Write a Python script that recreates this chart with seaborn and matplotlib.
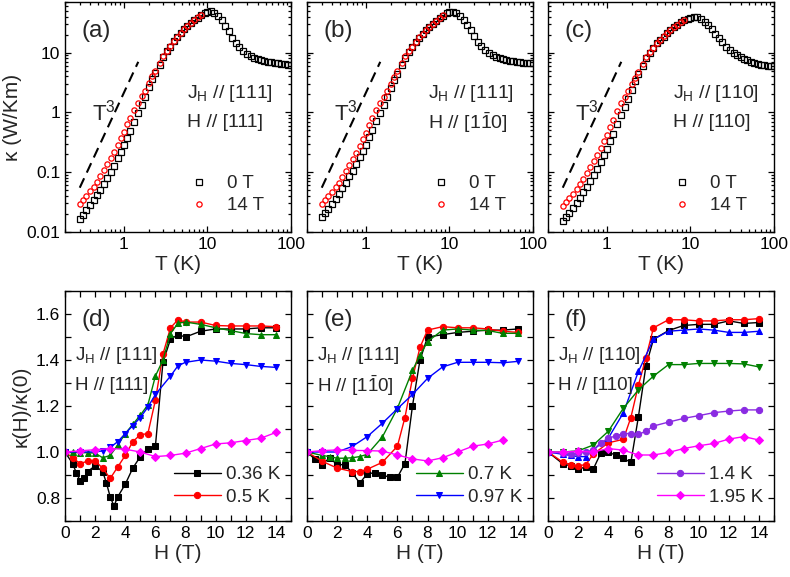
import numpy as np
import matplotlib
matplotlib.use("Agg")
import matplotlib.pyplot as plt
import matplotlib.ticker as mticker
import seaborn as sns

# ---- top row: kappa(T) on log-log ----
T0 = [0.30, 0.33, 0.36, 0.40, 0.44, 0.48, 0.53, 0.58, 0.64, 0.70,
      0.77, 0.85, 0.93, 1.0, 1.1, 1.2, 1.35, 1.5, 1.65, 1.8,
      2.0, 2.2, 2.4, 2.7, 3.0, 3.3, 3.6, 4.0, 4.4, 4.8,
      5.3, 5.8, 6.4, 7.0, 7.7, 8.5, 9.3, 10, 11, 12,
      13.5, 15, 16.5, 18, 20, 22, 24, 27, 30, 33,
      36, 40, 44, 48, 53, 58, 64, 70, 77, 85,
      93, 100]
T14 = T0[:36]

ka_0T = [0.0166, 0.0195, 0.023, 0.028, 0.034, 0.041, 0.051, 0.064, 0.081, 0.101,
         0.129, 0.17, 0.22, 0.28, 0.37, 0.49, 0.70, 0.98, 1.35, 1.82,
         2.63, 3.55, 4.57, 6.3, 8.5, 10.7, 12.6, 15.5, 18.2, 20.9,
         24.3, 27.5, 30.9, 34.7, 38.5, 42.7, 46.2, 48.4, 49.0, 46.2,
         40.7, 34.7, 28.2, 22.9, 17.8, 14.5, 12.3, 10.5, 9.3, 8.7,
         8.2, 7.76, 7.4, 7.2, 7.0, 6.84, 6.68, 6.58, 6.46, 6.38,
         6.31, 6.24]
ka_14T = [0.0293, 0.0347, 0.0403, 0.0479, 0.0575, 0.0684, 0.085, 0.107, 0.136, 0.17,
          0.214, 0.28, 0.37, 0.47, 0.63, 0.82, 1.1, 1.45, 1.85, 2.3,
          3.05, 4.0, 5.0, 6.8, 8.8, 10.8, 12.9, 15.6, 18.3, 21.0,
          24.4, 27.6, 31.0, 34.8, 38.6, 42.8]

kb_0T = [0.0175, 0.0205, 0.024, 0.0295, 0.036, 0.043, 0.054, 0.067, 0.085, 0.106,
         0.135, 0.178, 0.23, 0.29, 0.385, 0.5, 0.71, 0.98, 1.33, 1.78,
         2.55, 3.45, 4.45, 6.1, 8.2, 10.3, 12.2, 15.0, 17.6, 20.2,
         23.5, 26.6, 30.0, 33.6, 37.3, 41.5, 45.0, 47.0, 47.5, 45.5,
         40.5, 35.0, 29.0, 23.8, 18.8, 15.3, 13.0, 11.0, 9.8, 9.1,
         8.5, 8.0, 7.7, 7.45, 7.25, 7.1, 6.95, 6.85, 6.75, 6.7,
         6.65, 6.6]
kb_14T = [0.0295, 0.0345, 0.040, 0.047, 0.056, 0.067, 0.083, 0.104, 0.132, 0.165,
          0.21, 0.275, 0.36, 0.455, 0.61, 0.8, 1.08, 1.42, 1.82, 2.28,
          3.0, 3.95, 4.95, 6.7, 8.6, 10.6, 12.6, 15.3, 17.9, 20.5,
          23.8, 26.9, 30.3, 33.9, 37.6, 41.8]

kc_0T = [0.0155, 0.018, 0.021, 0.0255, 0.031, 0.037, 0.046, 0.057, 0.072, 0.09,
         0.115, 0.15, 0.195, 0.245, 0.33, 0.44, 0.64, 0.9, 1.25, 1.7,
         2.4, 3.3, 4.3, 6.0, 8.0, 10.0, 11.8, 14.2, 16.3, 18.4,
         21.0, 23.5, 26.3, 29.0, 31.8, 34.6, 36.9, 38.3, 39.2, 39.0,
         36.5, 32.5, 28.5, 24.5, 20.5, 17.3, 14.9, 12.5, 10.9, 9.8,
         9.0, 8.4, 7.8, 7.4, 7.0, 6.7, 6.5, 6.3, 6.15, 6.0,
         5.9, 5.85]
kc_14T = [0.0275, 0.032, 0.037, 0.044, 0.053, 0.063, 0.078, 0.097, 0.124, 0.155,
          0.197, 0.255, 0.33, 0.42, 0.56, 0.74, 1.05, 1.42, 1.8, 2.25,
          2.95, 3.8, 4.7, 6.4, 8.3, 10.2, 12.0, 14.4, 16.5, 18.6,
          21.2, 23.7, 26.5, 29.2, 32.0, 34.8]

# T^3 guide line end points
t3_T = [0.3, 1.5]
t3_k = [0.055, 7.0]

# ---- bottom row: kappa(H)/kappa(0) ----
d_H_036 = [0, 0.5, 0.75, 1, 1.25, 1.5, 2, 2.5, 2.75, 3, 3.25, 3.5, 4, 4.5, 5, 5.5, 6,
           6.5, 7, 7.5, 8, 9, 10, 11, 12, 13, 14]
d_k_036 = [1.0, 0.95, 0.91, 0.875, 0.885, 0.915, 0.94, 0.915, 0.865, 0.805, 0.765, 0.805,
           0.86, 0.93, 0.98, 1.015, 1.025, 1.39, 1.49, 1.51, 1.50, 1.525, 1.535, 1.535,
           1.535, 1.54, 1.54]
d_H_05 = [0, 0.5, 1, 1.5, 2, 2.5, 3, 3.5, 4, 4.5, 5, 5.5, 6, 6.5, 7, 7.5, 8, 9, 10, 11, 12, 13, 14]
d_k_05 = [1.0, 0.975, 0.95, 0.96, 0.96, 0.93, 0.885, 0.935, 0.985, 1.045, 1.075, 1.08,
          1.225, 1.425, 1.54, 1.575, 1.565, 1.565, 1.55, 1.548, 1.548, 1.548, 1.545]
d_H_07 = [0, 0.5, 1, 1.5, 2, 2.5, 3, 3.5, 4, 4.5, 5, 5.5, 6, 6.5, 7, 7.5, 8, 9, 10, 11, 12, 13, 14]
d_k_07 = [1.0, 0.998, 0.997, 0.997, 0.995, 0.975, 0.985, 1.03, 1.08, 1.12, 1.16, 1.205,
          1.33, 1.40, 1.515, 1.56, 1.565, 1.555, 1.54, 1.528, 1.515, 1.51, 1.51]
d_H_097 = [0, 1, 2, 2.5, 3, 3.5, 4, 4.5, 5, 5.5, 6, 7, 7.5, 8, 9, 10, 11, 12, 13, 14]
d_k_097 = [1.0, 1.0, 1.0, 1.005, 1.02, 1.045, 1.08, 1.115, 1.15, 1.195, 1.25, 1.33,
           1.375, 1.39, 1.40, 1.395, 1.385, 1.38, 1.372, 1.368]
d_H_195 = [0, 1, 2, 3, 4, 5, 6, 7, 8, 9, 10, 11, 12, 13, 14]
d_k_195 = [1.0, 1.005, 1.01, 1.015, 1.012, 1.0, 0.98, 0.985, 0.995, 1.015, 1.035, 1.04,
           1.05, 1.06, 1.085]

e_H_036 = [0, 0.5, 1, 1.5, 2, 2.5, 3, 3.5, 4, 4.5, 5, 5.5, 6, 6.5, 7, 7.5, 8, 9, 10, 11, 12, 13, 14]
e_k_036 = [1.0, 0.97, 0.945, 0.975, 0.945, 0.945, 0.91, 0.865, 0.905, 0.91, 0.9, 0.89,
           0.89, 0.95, 1.2, 1.4, 1.5, 1.51, 1.52, 1.525, 1.53, 1.53, 1.535]
e_H_05 = [0, 1, 2, 3, 3.5, 4, 5, 6, 6.5, 7, 7.5, 8, 9, 10, 11, 12, 13, 14]
e_k_05 = [1.0, 0.96, 0.93, 0.915, 0.915, 0.925, 0.955, 1.025, 1.15, 1.32, 1.455, 1.53,
          1.545, 1.54, 1.54, 1.535, 1.525, 1.52]
e_H_07 = [0, 1, 1.5, 2, 2.5, 3, 3.5, 4, 5, 6, 7, 7.5, 8, 9, 10, 11, 12, 13, 14]
e_k_07 = [1.0, 0.985, 0.98, 0.973, 0.973, 0.975, 0.98, 0.99, 1.065, 1.19, 1.355, 1.42,
          1.48, 1.53, 1.535, 1.53, 1.528, 1.516, 1.516]
e_H_097 = [0, 1, 2, 3, 4, 5, 6, 7, 8, 9, 10, 11, 12, 13, 14]
e_k_097 = [1.0, 1.0, 1.0, 1.024, 1.067, 1.125, 1.188, 1.25, 1.32, 1.37, 1.39, 1.39,
           1.39, 1.388, 1.394]
e_H_195 = [0, 1, 2, 3, 4, 5, 6, 7, 8, 9, 10, 11, 12, 13]
e_k_195 = [1.0, 1.006, 1.009, 1.007, 1.006, 1.004, 0.987, 0.97, 0.961, 0.975, 1.0,
           1.025, 1.035, 1.052]

f_H_036 = [0, 1, 1.5, 2, 2.5, 3, 3.5, 4, 4.5, 5, 5.5, 6, 6.5, 7, 8, 9, 10, 11, 12, 13, 14]
f_k_036 = [1.0, 0.948, 0.94, 0.925, 0.935, 0.925, 0.995, 0.998, 0.987, 0.972, 0.955,
           1.153, 1.374, 1.49, 1.528, 1.55, 1.555, 1.555, 1.57, 1.559, 1.563]
f_H_05 = [0, 1, 1.5, 2, 2.5, 3, 4, 5, 5.5, 6, 6.5, 7, 8, 9, 10, 11, 12, 13, 14]
f_k_05 = [1.0, 0.955, 0.945, 0.94, 0.945, 0.99, 1.04, 1.055, 1.15, 1.29, 1.41, 1.54,
          1.575, 1.575, 1.57, 1.57, 1.575, 1.575, 1.58]
f_H_blue = [0, 1, 1.5, 2, 2.5, 3, 4, 5, 6, 7, 8, 9, 10, 11, 12, 13, 14]
f_k_blue = [1.0, 0.99, 0.985, 0.98, 0.98, 1.01, 1.06, 1.17, 1.35, 1.49, 1.525, 1.53,
            1.535, 1.53, 1.52, 1.52, 1.525]
f_H_green = [0, 1, 2, 3, 4, 5, 6, 7, 8, 9, 10, 11, 12, 13, 14]
f_k_green = [1.0, 1.0, 1.005, 1.03, 1.09, 1.19, 1.27, 1.33, 1.38, 1.38, 1.385, 1.385,
             1.385, 1.383, 1.37]
f_H_14 = [0, 1, 1.5, 2, 2.5, 3, 3.5, 4, 4.5, 5, 5.5, 6, 6.5, 7, 8, 9, 10, 11, 12, 13, 14]
f_k_14 = [1.0, 0.995, 0.99, 0.995, 0.998, 1.01, 1.04, 1.06, 1.07, 1.08, 1.08, 1.077,
          1.09, 1.113, 1.13, 1.146, 1.158, 1.171, 1.178, 1.183, 1.183]
f_H_195 = [0, 1, 2, 3, 4, 5, 6, 7, 8, 9, 10, 11, 12, 13, 14]
f_k_195 = [1.0, 1.0, 1.003, 1.0, 1.015, 1.008, 0.987, 0.987, 0.998, 1.015, 1.027, 1.037,
           1.056, 1.067, 1.052]

BLACK, RED, GREEN, BLUE, PURPLE, MAGENTA = "black", "#ff0000", "#008000", "#0000ff", "#8a2be2", "#ff00ff"

sns.set_theme(style="ticks")
plt.rcParams["font.family"] = ["Liberation Sans", "DejaVu Sans"]
plt.rcParams["mathtext.fontset"] = "custom"
plt.rcParams["mathtext.rm"] = "Liberation Sans"
plt.rcParams["mathtext.it"] = "Liberation Sans:italic"
plt.rcParams["axes.linewidth"] = 1.0

fig = plt.figure(figsize=(7.9, 5.77), dpi=100)
lefts = [65 / 790, 307 / 790, 548 / 790]
W, H_ = 226 / 790, 230 / 577
top_axes = [fig.add_axes([l, 1 - 232 / 577, W, H_]) for l in lefts]
bot_axes = [fig.add_axes([l, 1 - 521 / 577, W, H_]) for l in lefts]

def style_ticks(ax):
    ax.tick_params(which="both", direction="in", top=True, right=True,
                   labelsize=12.5, colors="black", width=0.9)
    ax.tick_params(which="major", length=4.5)
    ax.tick_params(which="minor", length=2.5)
    for s in ax.spines.values():
        s.set_color("black")

top_data = [(ka_0T, ka_14T, "(a)", "[111]", "[111]"),
            (kb_0T, kb_14T, "(b)", "[111]", r"[1$\bar{\mathregular{1}}$0]"),
            (kc_0T, kc_14T, "(c)", "[110]", "[110]")]

for i, (ax, (k0, k14, lab, jh, hh)) in enumerate(zip(top_axes, top_data)):
    ax.set_xscale("log")
    ax.set_yscale("log")
    sns.lineplot(x=t3_T, y=t3_k, ax=ax, color="black", linestyle=(0, (5, 3)), lw=1.5)
    sns.lineplot(x=T0, y=k0, ax=ax, linestyle="", marker="s", ms=3.8, mfc="none",
                 mec="black", mew=0.9, label="0 T")
    sns.lineplot(x=T14, y=k14, ax=ax, linestyle="", marker="o", ms=3.8, mfc="none",
                 mec=RED, mew=0.9, label="14 T")
    ax.set_xlim(0.2, 100)
    ax.set_ylim(0.01, 70)
    ax.set_xticks([1, 10, 100])
    ax.set_xticklabels(["1", "10", "100"])
    ax.set_yticks([0.01, 0.1, 1, 10])
    ax.set_yticklabels(["0.01", "0.1", "1", "10"])
    ax.xaxis.set_minor_locator(mticker.LogLocator(base=10, subs=np.arange(2, 10), numticks=20))
    ax.yaxis.set_minor_locator(mticker.LogLocator(base=10, subs=np.arange(2, 10), numticks=20))
    ax.xaxis.set_minor_formatter(mticker.NullFormatter())
    ax.yaxis.set_minor_formatter(mticker.NullFormatter())
    style_ticks(ax)
    ax.set_xlabel("T (K)", fontsize=15, labelpad=2)
    if i == 0:
        ax.set_ylabel("κ (W/Km)", fontsize=15, labelpad=3)
    else:
        ax.set_ylabel("")
        ax.set_yticklabels([])
    ax.text(0.075, 0.875, lab, transform=ax.transAxes, fontsize=17.5, va="center")
    jx = [0.54, 0.535, 0.555][i]
    ax.text(jx, 0.60, r"J$_\mathregular{H}$ // " + jh, transform=ax.transAxes,
            fontsize=14, va="center")
    ax.text(jx, 0.475, "H // " + hh, transform=ax.transAxes, fontsize=14, va="center")
    ax.text(0.12, 0.52, r"T$^\mathregular{3}$", transform=ax.transAxes, fontsize=16,
            va="center")
    ax.legend(loc="lower left", bbox_to_anchor=(0.5, 0.02), frameon=False, fontsize=13.5,
              handlelength=0.8, handletextpad=1.1, labelspacing=0.25, borderpad=0.2)

bot_series = [
    [(d_H_036, d_k_036, BLACK, "s", "0.36 K"), (d_H_05, d_k_05, RED, "o", "0.5 K"),
     (d_H_07, d_k_07, GREEN, "^", None), (d_H_097, d_k_097, BLUE, "v", None),
     (d_H_195, d_k_195, MAGENTA, "D", None)],
    [(e_H_036, e_k_036, BLACK, "s", None), (e_H_05, e_k_05, RED, "o", None),
     (e_H_07, e_k_07, GREEN, "^", "0.7 K"), (e_H_097, e_k_097, BLUE, "v", "0.97 K"),
     (e_H_195, e_k_195, MAGENTA, "D", None)],
    [(f_H_036, f_k_036, BLACK, "s", None), (f_H_05, f_k_05, RED, "o", None),
     (f_H_blue, f_k_blue, BLUE, "^", None), (f_H_green, f_k_green, GREEN, "v", None),
     (f_H_14, f_k_14, PURPLE, "o", "1.4 K"), (f_H_195, f_k_195, MAGENTA, "D", "1.95 K")],
]
bot_text = [("(d)", "[111]", "[111]"),
            ("(e)", "[111]", r"[1$\bar{\mathregular{1}}$0]"),
            ("(f)", "[110]", "[110]")]

for i, (ax, series, (lab, jh, hh)) in enumerate(zip(bot_axes, bot_series, bot_text)):
    handles = []
    for hx, ky, col, mk, name in series:
        ms = 3.8 if mk == "D" else 4.5
        sns.lineplot(x=hx, y=ky, ax=ax, color=col, marker=mk, ms=ms, mec=col, mfc=col,
                     lw=1.0, label=name if name else "_nolegend_")
        if name:
            handles.append(ax.lines[-1])
    ax.set_xlim(0, 15)
    ax.set_ylim(0.7, 1.7)
    ax.xaxis.set_major_locator(mticker.MultipleLocator(2))
    ax.xaxis.set_minor_locator(mticker.MultipleLocator(1))
    ax.yaxis.set_major_locator(mticker.FixedLocator([0.8, 1.0, 1.2, 1.4, 1.6]))
    ax.yaxis.set_minor_locator(mticker.MultipleLocator(0.1))
    ax.yaxis.set_major_formatter(mticker.FormatStrFormatter("%.1f"))
    style_ticks(ax)
    ax.tick_params(which="minor", length=4.5)
    ax.set_xlabel("H (T)", fontsize=15, labelpad=2)
    if i == 0:
        ax.set_ylabel("κ(H)/κ(0)", fontsize=15, labelpad=4)
    else:
        ax.set_ylabel("")
        ax.set_yticklabels([])
    ax.text(0.075, 0.875, lab, transform=ax.transAxes, fontsize=17.5, va="center")
    ax.text(0.044, 0.72, r"J$_\mathregular{H}$ // " + jh, transform=ax.transAxes,
            fontsize=13.5, va="center")
    ax.text(0.044, 0.59, "H // " + hh, transform=ax.transAxes, fontsize=13.5, va="center")
    ax.legend(handles=handles, loc="lower right", bbox_to_anchor=(1.02, 0.0), frameon=False,
              fontsize=13.5, handlelength=2.5, handletextpad=0.3, labelspacing=0.3,
              borderpad=0.3)

fig.savefig("out.png", dpi=100)
